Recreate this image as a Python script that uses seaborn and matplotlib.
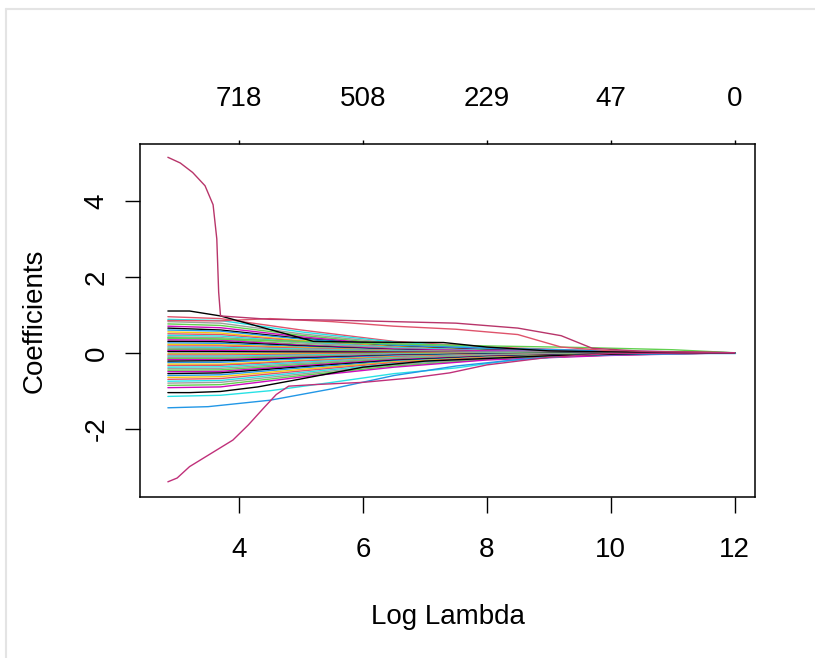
import numpy as np
import pandas as pd
import matplotlib
matplotlib.use("Agg")
import matplotlib.pyplot as plt
from matplotlib.lines import Line2D
import seaborn as sns

################################################################
# data:
x_ticks = [4, 6, 8, 10, 12]
top_counts = ["718", "508", "229", "47", "0"]
y_ticks = [-2, 0, 2, 4]

# knots (log lambda) shared by the bulk of the coefficient paths
fan_knots = [2.85, 3.7, 5.0, 6.5, 8.0, 10.0, 12.0]
fan_paths = [
    [0.95, 0.90, 0.60, 0.30, 0.15, 0.04, 0],
    [0.88, 0.85, 0.55, 0.28, 0.12, 0.03, 0],
    [0.82, 0.78, 0.50, 0.25, 0.10, 0.02, 0],
    [0.76, 0.72, 0.46, 0.22, 0.10, 0.03, 0],
    [0.70, 0.66, 0.42, 0.20, 0.08, 0.02, 0],
    [0.65, 0.60, 0.38, 0.18, 0.07, 0.01, 0],
    [0.60, 0.57, 0.36, 0.20, 0.12, 0.05, 0],
    [0.55, 0.52, 0.32, 0.16, 0.06, 0.01, 0],
    [0.50, 0.48, 0.30, 0.15, 0.05, 0.00, 0],
    [0.46, 0.44, 0.28, 0.14, 0.06, 0.02, 0],
    [0.42, 0.40, 0.26, 0.12, 0.04, 0.00, 0],
    [0.38, 0.36, 0.22, 0.10, 0.03, 0.00, 0],
    [0.34, 0.33, 0.20, 0.10, 0.05, 0.02, 0],
    [0.30, 0.29, 0.18, 0.08, 0.02, 0.00, 0],
    [0.26, 0.25, 0.16, 0.07, 0.02, 0.00, 0],
    [0.22, 0.21, 0.14, 0.06, 0.02, 0.00, 0],
    [0.18, 0.18, 0.12, 0.06, 0.03, 0.01, 0],
    [0.15, 0.14, 0.10, 0.05, 0.02, 0.00, 0],
    [0.12, 0.11, 0.08, 0.04, 0.01, 0.00, 0],
    [0.09, 0.09, 0.06, 0.03, 0.01, 0.00, 0],
    [0.06, 0.06, 0.04, 0.02, 0.01, 0.00, 0],
    [0.03, 0.03, 0.02, 0.01, 0.00, 0.00, 0],
    [0.00, 0.00, 0.00, 0.00, 0.00, 0.00, 0],
    [-0.03, -0.03, -0.02, -0.01, 0.00, 0.00, 0],
    [-0.06, -0.06, -0.04, -0.02, -0.01, 0.00, 0],
    [-0.09, -0.09, -0.06, -0.03, -0.01, 0.00, 0],
    [-0.12, -0.12, -0.08, -0.04, -0.02, 0.00, 0],
    [-0.15, -0.15, -0.10, -0.05, -0.02, 0.00, 0],
    [-0.18, -0.18, -0.12, -0.06, -0.03, -0.01, 0],
    [-0.22, -0.21, -0.14, -0.07, -0.03, 0.00, 0],
    [-0.26, -0.25, -0.16, -0.08, -0.04, -0.01, 0],
    [-0.30, -0.30, -0.20, -0.10, -0.05, -0.02, 0],
    [-0.34, -0.33, -0.22, -0.11, -0.05, -0.01, 0],
    [-0.38, -0.37, -0.25, -0.13, -0.06, -0.02, 0],
    [-0.42, -0.41, -0.28, -0.14, -0.06, -0.01, 0],
    [-0.46, -0.45, -0.31, -0.16, -0.08, -0.02, 0],
    [-0.50, -0.49, -0.34, -0.18, -0.09, -0.03, 0],
    [-0.55, -0.53, -0.37, -0.20, -0.10, -0.03, 0],
    [-0.60, -0.58, -0.40, -0.22, -0.11, -0.04, 0],
    [-0.65, -0.63, -0.44, -0.24, -0.12, -0.04, 0],
    [-0.70, -0.68, -0.48, -0.26, -0.13, -0.05, 0],
    [-0.75, -0.73, -0.52, -0.29, -0.15, -0.05, 0],
    [-0.80, -0.78, -0.56, -0.32, -0.16, -0.06, 0],
    [-0.86, -0.84, -0.60, -0.35, -0.18, -0.06, 0],
    [-0.92, -0.90, -0.64, -0.38, -0.19, -0.07, 0],
]

# paths that stand out from the bundle
top_x = [2.85, 3.05, 3.25, 3.45, 3.58, 3.64, 3.67, 3.70, 4.5, 5.5, 6.5, 7.5, 8.5, 9.2, 9.7, 10.5, 12.0]
top_y = [5.15, 5.0, 4.75, 4.4, 3.9, 3.0, 1.6, 0.97, 0.88, 0.86, 0.82, 0.78, 0.65, 0.45, 0.12, 0.04, 0.0]

bottom_x = [2.85, 3.0, 3.2, 3.35, 3.6, 3.9, 4.15, 4.4, 4.6, 4.8, 5.2, 6.0, 6.8, 7.4, 8.0, 9.0, 10.0, 12.0]
bottom_y = [-3.4, -3.3, -3.0, -2.85, -2.6, -2.3, -1.9, -1.45, -1.1, -0.88, -0.84, -0.78, -0.66, -0.53, -0.32, -0.12, -0.02, 0.0]

black_hi_x = [2.85, 3.2, 3.7, 4.3, 5.2, 6.0, 7.3, 8.0, 9.0, 10.5, 12.0]
black_hi_y = [1.1, 1.1, 0.97, 0.7, 0.3, 0.28, 0.27, 0.15, 0.05, 0.01, 0.0]

black_lo_x = [2.85, 3.2, 3.7, 4.3, 4.9, 6.0, 7.0, 8.0, 9.0, 10.5, 12.0]
black_lo_y = [-1.05, -1.05, -1.02, -0.9, -0.72, -0.38, -0.22, -0.15, -0.08, -0.02, 0.0]

red_mid_x = [2.85, 3.7, 4.5, 5.5, 6.5, 7.5, 8.5, 9.2, 10.0, 12.0]
red_mid_y = [0.85, 0.84, 0.9, 0.82, 0.7, 0.62, 0.48, 0.15, 0.05, 0.0]

blue_lo_x = [2.85, 3.5, 4.5, 5.5, 6.5, 7.5, 8.5, 9.5, 12.0]
blue_lo_y = [-1.45, -1.42, -1.25, -0.95, -0.6, -0.35, -0.18, -0.06, 0.0]

cyan_lo_x = [2.85, 3.7, 4.5, 5.5, 6.5, 7.5, 8.3, 9.5, 12.0]
cyan_lo_y = [-1.15, -1.12, -1.0, -0.78, -0.55, -0.4, -0.22, -0.06, 0.0]

green_hi_x = [2.85, 4.0, 6.0, 8.0, 9.5, 11.0, 12.0]
green_hi_y = [0.4, 0.35, 0.25, 0.18, 0.14, 0.08, 0.0]

# R default palette, cycled over the coefficients
r_palette = ["black", "#DF536B", "#61D04F", "#2297E6", "#28E2E5", "#CD0BBC", "#F5C710", "#9E9E9E"]

################################################################
# build a long table:
rows = []
colours = {}
for i, vals in enumerate(fan_paths):
    name = "fan%02d" % i
    colours[name] = r_palette[(i * 3 + 1) % 8]
    for xk, v in zip(fan_knots, vals):
        rows.append((name, xk, v))

special = [
    ("green_hi", green_hi_x, green_hi_y, "#61D04F"),
    ("red_mid", red_mid_x, red_mid_y, "#DF536B"),
    ("cyan_lo", cyan_lo_x, cyan_lo_y, "#28E2E5"),
    ("blue_lo", blue_lo_x, blue_lo_y, "#2297E6"),
    ("black_hi", black_hi_x, black_hi_y, "black"),
    ("black_lo", black_lo_x, black_lo_y, "black"),
    ("top", top_x, top_y, "#B8356A"),
    ("bottom", bottom_x, bottom_y, "#C0307A"),
]
for name, xs, ys, col in special:
    colours[name] = col
    for xk, v in zip(xs, ys):
        rows.append((name, xk, v))

df = pd.DataFrame(rows, columns=["path", "loglambda", "coef"])

################################################################
# plot:
sns.set_style("white")
plt.rcParams["font.family"] = ["Liberation Sans", "DejaVu Sans"]
plt.rcParams["text.color"] = "black"
plt.rcParams["axes.labelcolor"] = "black"
plt.rcParams["xtick.color"] = "black"
plt.rcParams["ytick.color"] = "black"

fig = plt.figure(figsize=(8.15, 6.58), dpi=100)
ax = fig.add_axes([140 / 815, 1 - 497 / 658, 615 / 815, 353 / 658])

sns.lineplot(data=df, x="loglambda", y="coef", hue="path", palette=colours,
             estimator=None, sort=False, legend=False, linewidth=1.0, ax=ax)

ax.set_xlim(2.4, 12.33)
ax.set_ylim(-3.8, 5.5)
ax.set_xticks(x_ticks)
ax.set_xticklabels([str(t) for t in x_ticks])
ax.set_yticks(y_ticks)
ax.set_yticklabels([str(t) for t in y_ticks], rotation=90, va="center")
ax.tick_params(axis="x", direction="out", length=11.5, width=1, pad=17, labelsize=20, bottom=True)
ax.tick_params(axis="y", direction="out", length=11, width=1, pad=11, labelsize=20, left=True)
for s in ax.spines.values():
    s.set_color("black")
    s.set_linewidth(1.1)

top = ax.secondary_xaxis("top")
top.set_xticks(x_ticks)
top.set_xticklabels(top_counts)
top.tick_params(direction="out", length=3, width=1, pad=20, labelsize=20)
top.spines["top"].set_visible(False)

ax.set_xlabel("Log Lambda", fontsize=20, labelpad=30)
ax.set_ylabel("Coefficients", fontsize=20, labelpad=26)

# light frame of the original screenshot
fig.add_artist(Line2D([6 / 815, 6 / 815], [0, 1 - 9 / 658], transform=fig.transFigure, color="#e4e4e4", linewidth=1.5))
fig.add_artist(Line2D([6 / 815, 1], [1 - 9 / 658, 1 - 9 / 658], transform=fig.transFigure, color="#e4e4e4", linewidth=1.5))

fig.savefig("out.png", dpi=100)
